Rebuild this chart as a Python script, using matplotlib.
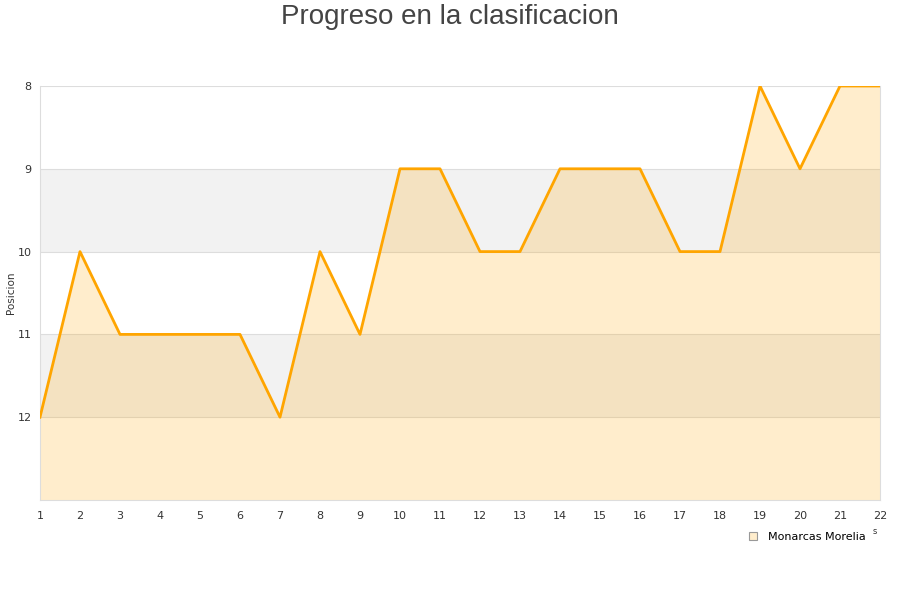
import numpy as np
import matplotlib
matplotlib.use("Agg")
import matplotlib.pyplot as plt
from matplotlib.lines import Line2D

# ── Datos ──
jornadas = list(range(1, 23))
posicion = [12, 10, 11, 11, 11, 11, 12, 10, 11, 9, 9, 10, 10, 9, 9, 9, 10, 10, 8, 9, 8, 8]
equipo = "Monarcas Morelia"
y_ticks = [8, 9, 10, 11, 12]

fig = plt.figure(figsize=(9, 6), dpi=100)
ax = fig.add_axes([40 / 900, 1 - 500 / 600, 840 / 900, 414 / 600])

# bandas alternas
for lo, hi in [(9, 10), (11, 12)]:
    ax.axhspan(lo, hi, color="#f2f2f2", zorder=0, lw=0)
for y in y_ticks:
    ax.axhline(y, color="#dddddd", lw=0.8, zorder=1)

ax.fill_between(jornadas, posicion, 13, color="#FFA500", alpha=0.2, lw=0, zorder=2)
ax.plot(jornadas, posicion, color="#FFA500", lw=2, zorder=3)

ax.set_xlim(1, 22)
ax.set_ylim(13, 8)
ax.set_xticks(jornadas)
ax.set_yticks(y_ticks)
ax.tick_params(length=0, labelsize=8, colors="#333333", pad=8)
ax.tick_params(axis="y", pad=6)
for s in ax.spines.values():
    s.set_color("#dddddd")
ax.spines["top"].set_visible(False)
ax.set_ylabel("Posicion", fontsize=7.5, color="#333333")
ax.yaxis.set_label_coords(-24 / 840, 0.5)

fig.text(0.5, 1 - 17 / 600, "Progreso en la clasificacion", ha="center", va="center",
         fontsize=20, color="#444444", family="Liberation Sans")

handle = Line2D([], [], marker="s", ls="", markersize=6, markerfacecolor="#FFEDCC",
                markeredgecolor="#999999", markeredgewidth=0.8)
fig.legend([handle], [equipo], loc="center", bbox_to_anchor=(804 / 900, 1 - 537 / 600),
           frameon=False, fontsize=8, handletextpad=0.4)
fig.text(875 / 900, 1 - 531 / 600, "s", fontsize=6, color="#333333", ha="center", va="center")

fig.savefig("out.png", dpi=100)
